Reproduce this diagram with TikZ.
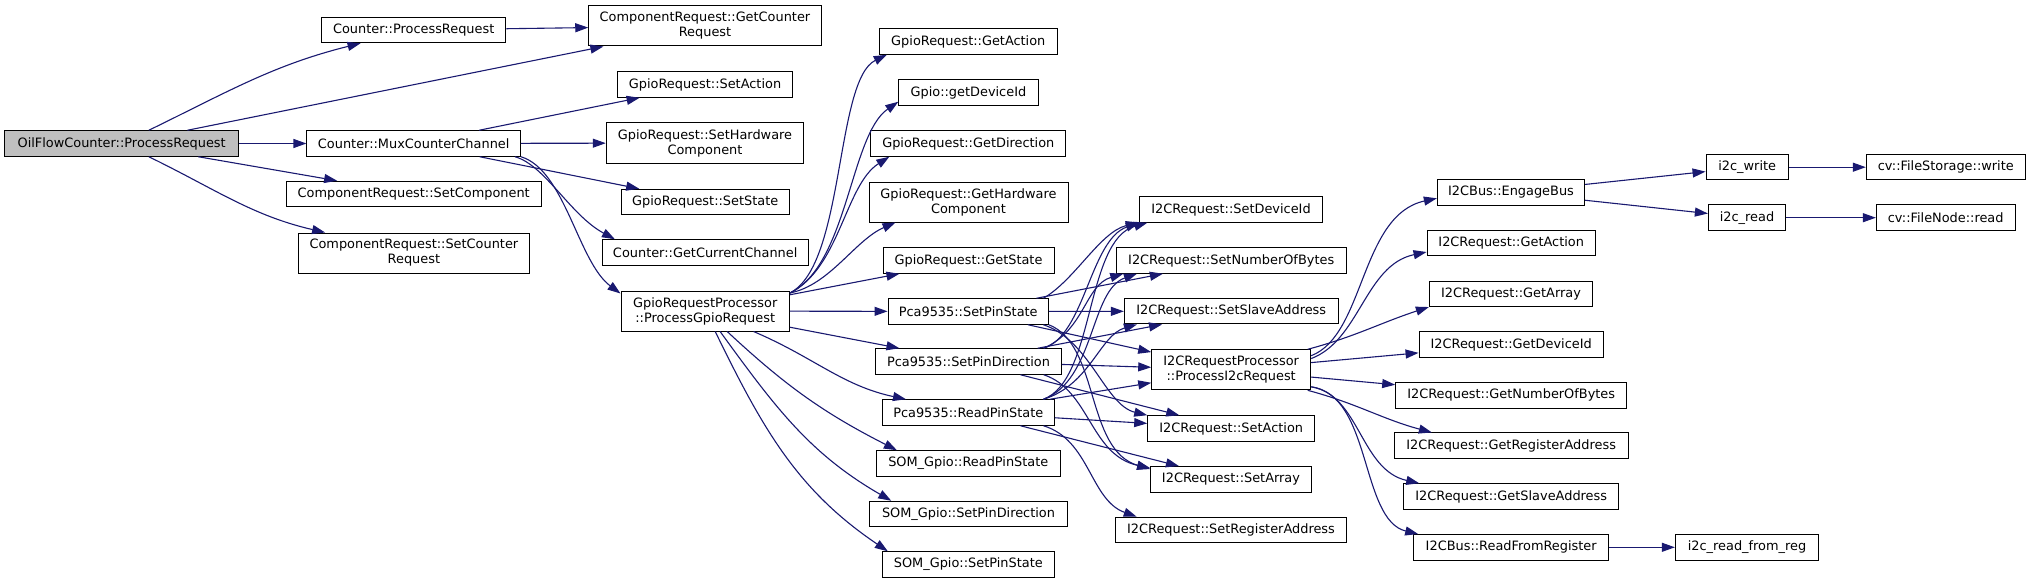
\documentclass[tikz,border=0pt]{standalone}
\usepackage{fontspec}
\setmainfont{DejaVu Sans}
\usetikzlibrary{arrows.meta, calc}
\definecolor{dxblue}{HTML}{191970}
\definecolor{dxgrey}{HTML}{BFBFBF}

\begin{document}
\begin{tikzpicture}[x=1pt, y=-1pt,
  fn/.style={draw=black, line width=1pt, fill=white, inner sep=0pt, minimum height=25.5,
    align=center, font=\fontsize{12.9}{15}\selectfont},
  fn2/.style={fn, minimum height=40},
  fnroot/.style={fn, fill=dxgrey},
  call/.style={draw=dxblue, line width=1.1pt, -{Triangle[length=13pt, width=9pt]}}]
\useasboundingbox (0,0) rectangle (2031,583);

% rank 0 and 1
\node[fnroot, minimum width=234] (root) at (121.7,143.5) {OilFlowCounter::ProcessRequest};
\node[fn, minimum width=184.5] (cpr) at (413.7,30) {Counter::ProcessRequest};
\node[fn, minimum width=213.5] (mux) at (413.7,143.5) {Counter::MuxCounterChannel};
\node[fn, minimum width=255] (scomp) at (413.7,194) {ComponentRequest::SetComponent};
\node[fn2, minimum width=230.7] (scntr) at (413.9,253) {ComponentRequest::SetCounter\\Request};

% rank 2
\node[fn2, minimum width=232.5] (gcntr) at (705,26) {ComponentRequest::GetCounter\\Request};
\node[fn, minimum width=175] (gsact) at (705,84.5) {GpioRequest::SetAction};
\node[fn2, minimum width=197.5] (gshw) at (705,143) {GpioRequest::SetHardware\\Component};
\node[fn, minimum width=168.4] (gsst) at (705.2,202) {GpioRequest::SetState};
\node[fn, minimum width=205.6] (gcur) at (705.2,252.5) {Counter::GetCurrentChannel};
\node[fn2, minimum width=168.4] (gproc) at (705.2,311) {GpioRequestProcessor\\::ProcessGpioRequest};

% rank 3
\node[fn, minimum width=178] (ggact) at (968.3,41.5) {GpioRequest::GetAction};
\node[fn, minimum width=139.2] (gdev) at (968.4,92.5) {Gpio::getDeviceId};
\node[fn, minimum width=195] (ggdir) at (968.3,143.5) {GpioRequest::GetDirection};
\node[fn2, minimum width=199] (gghw) at (968.5,202) {GpioRequest::GetHardware\\Component};
\node[fn, minimum width=171] (ggst) at (968.5,260.5) {GpioRequest::GetState};
\node[fn, minimum width=160.3] (pset) at (968.2,311.5) {Pca9535::SetPinState};
\node[fn, minimum width=185.5] (pdir) at (968.5,361.5) {Pca9535::SetPinDirection};
\node[fn, minimum width=172] (pread) at (968.3,412.5) {Pca9535::ReadPinState};
\node[fn, minimum width=183.8] (sread) at (968.3,463.5) {SOM\_Gpio::ReadPinState};
\node[fn, minimum width=197.5] (sdir) at (968.5,514) {SOM\_Gpio::SetPinDirection};
\node[fn, minimum width=172] (sset) at (968.3,564.5) {SOM\_Gpio::SetPinState};

% rank 4
\node[fn, minimum width=183.4] (isdev) at (1231,209.5) {I2CRequest::SetDeviceId};
\node[fn, minimum width=229.7] (isnum) at (1231.2,260.5) {I2CRequest::SetNumberOfBytes};
\node[fn, minimum width=213.7] (isslv) at (1231.2,311.2) {I2CRequest::SetSlaveAddress};
\node[fn2, minimum width=159] (iproc) at (1231.2,369.8) {I2CRequestProcessor\\::ProcessI2cRequest};
\node[fn, minimum width=167] (isact) at (1231.2,428.5) {I2CRequest::SetAction};
\node[fn, minimum width=160.7] (isarr) at (1231,479.3) {I2CRequest::SetArray};
\node[fn, minimum width=231.3] (isreg) at (1231,530) {I2CRequest::SetRegisterAddress};

% rank 5
\node[fn, minimum width=147.3] (engage) at (1511,192.3) {I2CBus::EngageBus};
\node[fn, minimum width=168.3] (igact) at (1511.2,243) {I2CRequest::GetAction};
\node[fn, minimum width=163.3] (igarr) at (1511,293.8) {I2CRequest::GetArray};
\node[fn, minimum width=184.3] (igdev) at (1511.2,344.5) {I2CRequest::GetDeviceId};
\node[fn, minimum width=231] (ignum) at (1511.2,395.3) {I2CRequest::GetNumberOfBytes};
\node[fn, minimum width=233.7] (igreg) at (1511.2,445.7) {I2CRequest::GetRegisterAddress};
\node[fn, minimum width=215] (igslv) at (1511.2,496.5) {I2CRequest::GetSlaveAddress};
\node[fn, minimum width=195] (rdreg) at (1511.2,547.3) {I2CBus::ReadFromRegister};

% rank 6 and 7
\node[fn, minimum width=82.3] (iwrite) at (1747.2,167.2) {i2c\_write};
\node[fn, minimum width=77.3] (iread) at (1747,217.7) {i2c\_read};
\node[fn, minimum width=143.3] (ireg) at (1747,547.3) {i2c\_read\_from\_reg};
\node[fn, minimum width=159] (fswrite) at (1945.8,167.2) {cv::FileStorage::write};
\node[fn, minimum width=138.7] (fnread) at (1945.7,217.7) {cv::FileNode::read};

% calls from the root
\draw[call] (root) to[out=26,in=194] (cpr);
\draw[call] (root) -- (gcntr);
\draw[call] (root) -- (mux);
\draw[call] (root) -- (scomp);
\draw[call] (root) to[out=-26,in=167] (scntr);
\draw[call] (cpr) -- (gcntr);

% calls from the mux
\draw[call] (mux) -- (gsact);
\draw[call] (mux) -- (gshw);
\draw[call] (mux) -- (gsst);
\draw[call] ($(mux.south east)+(-6,0)$) .. controls (545,165) and (570,215) .. ($(gcur.north west)+(13,0)$);
\draw[call] (mux.south east) .. controls (565,170) and (578,262) .. ($(gproc.north west)+(0,3)$);

% calls from the gpio processor
\draw[call] (gproc.12) .. controls (845,265) and (835,80) .. ($(ggact.south west)+(8,0)$);
\draw[call] (gproc.12) .. controls (848,265) and (850,135) .. ($(gdev.south west)+(0,-4)$);
\draw[call] (gproc.12) .. controls (840,268) and (845,185) .. ($(ggdir.south west)+(19,0)$);
\draw[call] (gproc.12) .. controls (830,285) and (855,240) .. ($(gghw.south west)+(27,0)$);
\draw[call] (gproc) -- (ggst);
\draw[call] (gproc) -- (pset);
\draw[call] (gproc) -- (pdir);
\draw[call] (gproc) to[out=-23,in=168] (pread);
\draw[call] (gproc) to[out=-43,in=153] ($(sread.north west)+(21,0)$);
\draw[call] (gproc) to[out=-54,in=150] ($(sdir.north west)+(22,0)$);
\draw[call] (gproc) to[out=-64,in=146] ($(sset.north west)+(6,0)$);

% calls from the pca9535
\draw[call] (pset.10) .. controls (1075,280) and (1100,232) .. (isdev.188);
\draw[call] (pset) -- (isnum);
\draw[call] (pset) -- (isslv);
\draw[call] (pset) -- (iproc);
\draw[call] (pset.-10) .. controls (1090,340) and (1105,405) .. (isact.north west);
\draw[call] (pset.south east) .. controls (1100,345) and (1085,450) .. ($(isarr.north west)+(0,3)$);
\draw[call] (pdir.10) .. controls (1085,335) and (1090,240) .. (isdev.south west);
\draw[call] (pdir.10) .. controls (1085,330) and (1085,285) .. (isnum.187);
\draw[call] (pdir) -- (isslv);
\draw[call] (pdir) -- (iproc);
\draw[call] (pdir) -- (isact);
\draw[call] (pdir.-10) .. controls (1090,390) and (1090,455) .. ($(isarr.north west)+(0,2)$);
\draw[call] (pread.10) .. controls (1095,380) and (1085,240) .. (isdev.189);
\draw[call] (pread.10) .. controls (1095,380) and (1090,290) .. (isnum.188);
\draw[call] (pread.10) .. controls (1090,385) and (1100,335) .. (isslv.188);
\draw[call] (pread) -- (iproc);
\draw[call] (pread) -- (isact);
\draw[call] (pread) -- (isarr);
\draw[call] (pread.-10) .. controls (1090,440) and (1090,500) .. (isreg.172);

% calls from the i2c processor
\draw[call] (iproc.10) .. controls (1365,335) and (1360,215) .. ($(engage.west)+(0,6)$);
\draw[call] (iproc.8) .. controls (1360,340) and (1365,265) .. ($(igact.west)+(0,9)$);
\draw[call] (iproc) to[out=15,in=198] (igarr.south west);
\draw[call] (iproc) -- (igdev);
\draw[call] (iproc) -- (ignum);
\draw[call] (iproc) to[out=-15,in=165] ($(igreg.north west)+(38,0)$);
\draw[call] (iproc.-12) .. controls (1360,395) and (1360,470) .. ($(igslv.north west)+(16,0)$);
\draw[call] (iproc.-12) .. controls (1372,395) and (1360,520) .. ($(rdreg.north west)+(5,0)$);

% bus level
\draw[call] (engage) -- (iwrite);
\draw[call] (engage) -- (iread);
\draw[call] (iwrite) -- (fswrite);
\draw[call] (iread) -- (fnread);
\draw[call] (rdreg) -- (ireg);
\end{tikzpicture}
\end{document}
